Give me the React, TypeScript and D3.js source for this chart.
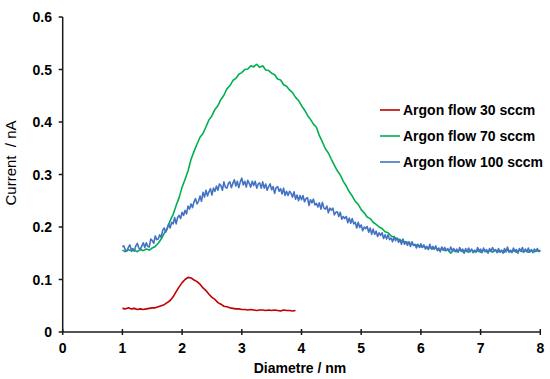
import React from "react";
import * as d3 from "d3";

// x tick labels and y tick labels
const xTicks = [0, 1, 2, 3, 4, 5, 6, 7, 8];
const yTicks = [0, 0.1, 0.2, 0.3, 0.4, 0.5, 0.6];
const yTickLabels = ["0", "0.1", "0.2", "0.3", "0.4", "0.5", "0.6"];

const seriesNames = ["Argon flow 30 sccm", "Argon flow 70 sccm", "Argon flow 100 sccm"];
const seriesColors = ["#C00000", "#00B050", "#4472C4"];

// Argon flow 30 sccm: diameter 1.00..3.90 nm, step 0.05 nm, current in pA (x1e-3 nA)
const red30Start = 1.0;
const red30Step = 0.05;
const red30 = [
  45, 44, 46, 44, 45, 43, 44, 43, 44, 45,
  46, 46, 48, 50, 52, 56, 60, 67, 77, 86,
  94, 100, 104, 103, 99, 96, 91, 84, 79, 72,
  66, 62, 56, 53, 49, 48, 46, 45, 44, 44,
  43, 43, 42, 43, 42, 41, 42, 42, 41, 42,
  41, 42, 41, 40, 42, 41, 41, 40, 41,
];

// Argon flow 70 sccm: diameter 1.00..8.00 nm, step 0.05 nm
const green70Start = 1.0;
const green70Step = 0.05;
const green70 = [
  156, 153, 157, 154, 156, 153, 157, 155, 158, 156,
  160, 163, 169, 177, 188, 198, 212, 224, 241, 256,
  276, 291, 307, 329, 344, 358, 371, 378, 391, 404,
  412, 424, 431, 443, 451, 463, 469, 479, 483, 491,
  494, 500, 501, 507, 505, 510, 504, 507, 499, 498,
  493, 490, 482, 480, 471, 468, 461, 456, 447, 441,
  431, 423, 413, 405, 396, 390, 374, 362, 349, 341,
  329, 318, 307, 299, 287, 278, 267, 259, 249, 243,
  233, 227, 219, 216, 209, 205, 200, 197, 191, 189,
  183, 181, 177, 176, 172, 172, 169, 168, 165, 166,
  162, 163, 160, 161, 158, 160, 156, 158, 155, 157,
  150, 156, 153, 156, 153, 155, 152, 156, 153, 155,
  152, 156, 153, 155, 152, 156, 153, 155, 152, 156,
  153, 155, 152, 156, 153, 155, 152, 156, 153, 155,
  154,
];

// Argon flow 100 sccm: diameter 1.000..8.000 nm, step 0.025 nm
const blue100Start = 1.0;
const blue100Step = 0.025;
const blue100 = [
  162, 164, 156, 154, 161, 166, 156, 159,
  154, 164, 169, 160, 157, 164, 170, 161,
  170, 163, 162, 177, 174, 169, 183, 176,
  177, 185, 180, 194, 198, 190, 196, 206,
  198, 209, 206, 218, 206, 218, 222, 216,
  228, 222, 232, 225, 240, 234, 244, 237,
  248, 254, 244, 249, 259, 249, 266, 257,
  270, 259, 267, 273, 261, 274, 268, 278,
  270, 282, 279, 270, 286, 276, 274, 283,
  286, 275, 283, 290, 278, 287, 275, 286,
  293, 280, 287, 276, 289, 283, 276, 287,
  279, 287, 274, 282, 284, 274, 286, 274,
  282, 270, 277, 282, 271, 277, 264, 275,
  277, 268, 273, 263, 274, 260, 268, 260,
  268, 264, 257, 267, 253, 261, 250, 260,
  252, 260, 248, 254, 256, 241, 252, 246,
  253, 242, 245, 238, 246, 234, 247, 236,
  234, 240, 227, 236, 232, 236, 223, 228,
  229, 220, 228, 215, 220, 216, 220, 208,
  217, 207, 216, 206, 209, 198, 209, 199,
  204, 193, 200, 197, 201, 190, 198, 186,
  196, 186, 192, 182, 189, 184, 189, 178,
  185, 177, 185, 176, 179, 172, 182, 174,
  179, 171, 175, 167, 177, 167, 172, 165,
  172, 163, 172, 165, 167, 160, 167, 161,
  168, 161, 166, 158, 163, 157, 167, 158,
  163, 158, 164, 155, 160, 153, 162, 156,
  161, 155, 159, 153, 162, 155, 159, 153,
  158, 152, 161, 154, 158, 150, 159, 153,
  160, 153, 158, 151, 156, 152, 161, 154,
  158, 151, 160, 153, 157, 150, 159, 154,
  161, 154, 157, 151, 159, 152, 156, 150,
  159, 153, 162, 152, 156, 151, 160, 154,
  157, 150, 159, 154, 161, 152, 158, 153,
  160, 152, 157, 151, 158, 154, 159, 153,
  156,
];

const W = 550;
const H = 379;
const FONT = "Liberation Sans, Arial, Helvetica, sans-serif";

function toPoints(start: number, step: number, vals: number[]): [number, number][] {
  return vals.map((v, i) => [start + i * step, v / 1000]);
}

export default function App() {
  const x = d3.scaleLinear().domain([0, 8]).range([62.7, 540.3]);
  const y = d3.scaleLinear().domain([0, 0.6]).range([332, 17]);
  const line = d3
    .line<[number, number]>()
    .x((d) => x(d[0]))
    .y((d) => y(d[1]));

  const series = [
    toPoints(red30Start, red30Step, red30),
    toPoints(green70Start, green70Step, green70),
    toPoints(blue100Start, blue100Step, blue100),
  ];
  const axisColor = "#1a1a1a";
  const legendX = 380;
  const legendY = [110, 136, 162];

  return (
    <svg
      width={W}
      height={H}
      style={{ position: "absolute", left: 0, top: 0, background: "#fff" }}
      fontFamily={FONT}
    >
      <rect x={0} y={0} width={W} height={H} fill="#fff" />
      {series.map((pts, i) => (
        <path
          key={i}
          d={line(pts) || ""}
          fill="none"
          stroke={seriesColors[i]}
          strokeWidth={1.6}
          strokeLinejoin="round"
        />
      ))}
      {/* y axis */}
      <line x1={x(0)} x2={x(0)} y1={y(0.6)} y2={y(0)} stroke={axisColor} strokeWidth={1.5} />
      {yTicks.map((t, i) => (
        <g key={"y" + i}>
          <line x1={x(0) - 4} x2={x(0)} y1={y(t)} y2={y(t)} stroke={axisColor} strokeWidth={1.5} />
          <text
            x={52}
            y={y(t)}
            dy="0.36em"
            textAnchor="end"
            fontSize={14}
            fontWeight="bold"
            fill="#000"
          >
            {yTickLabels[i]}
          </text>
        </g>
      ))}
      {/* x axis */}
      <line x1={x(0)} x2={x(8)} y1={y(0)} y2={y(0)} stroke={axisColor} strokeWidth={1.5} />
      {xTicks.map((t) => (
        <g key={"x" + t}>
          <line x1={x(t)} x2={x(t)} y1={y(0) - 3} y2={y(0) + 3} stroke={axisColor} strokeWidth={1.5} />
          <text x={x(t)} y={353} textAnchor="middle" fontSize={14} fontWeight="bold" fill="#000">
            {t}
          </text>
        </g>
      ))}
      <text x={300} y={373} textAnchor="middle" fontSize={14} fontWeight="bold" fill="#000">
        Diametre / nm
      </text>
      <text
        transform={`translate(16,163) rotate(-90)`}
        textAnchor="middle"
        fontSize={15}
        fill="#000"
        style={{ whiteSpace: "pre" }}
      >
        {"Current  / nA"}
      </text>
      {/* legend */}
      {seriesNames.map((n, i) => (
        <g key={"l" + i}>
          <line
            x1={legendX}
            x2={legendX + 20}
            y1={legendY[i]}
            y2={legendY[i]}
            stroke={seriesColors[i]}
            strokeWidth={1.6}
          />
          <text x={legendX + 23} y={legendY[i]} dy="0.36em" fontSize={14} fontWeight="bold" fill="#000">
            {n}
          </text>
        </g>
      ))}
    </svg>
  );
}
